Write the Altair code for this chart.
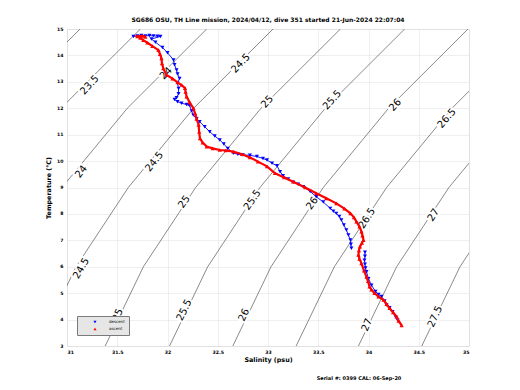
import altair as alt
import pandas as pd

# ---------------- data ----------------
title_text = "SG686 OSU, TH Line mission, 2024/04/12, dive 351 started 21-Jun-2024 22:07:04"
footer_text = "Serial #: 0399  CAL: 06-Sep-20"

sal_ticks = [31, 31.5, 32, 32.5, 33, 33.5, 34, 34.5, 35]
temp_ticks = [3, 4, 5, 6, 7, 8, 9, 10, 11, 12, 13, 14, 15]

# isopycnal contours: salinity where each sigma line crosses these temperatures
iso_T = [3, 6, 9, 12, 15]
iso_23 = [28.79, 29.17, 29.69, 30.34, 31.13]
iso_23_5 = [29.39, 29.77, 30.29, 30.94, 31.73]
iso_24 = [30.05, 30.43, 30.95, 31.60, 32.39]
iso_24_5 = [30.71, 31.09, 31.61, 32.26, 33.05]
iso_25 = [31.38, 31.76, 32.28, 32.93, 33.72]
iso_25_5 = [32.02, 32.40, 32.92, 33.57, 34.36]
iso_26 = [32.65, 33.03, 33.55, 34.20, 34.99]
iso_26_5 = [33.28, 33.66, 34.18, 34.83, 35.62]
iso_27 = [33.90, 34.28, 34.80, 35.45, 36.24]
iso_27_5 = [34.53, 34.91, 35.43, 36.08, 36.87]

# contour labels
lab_text = ["23.5", "24", "24", "24.5", "24.5", "24.5", "25", "25", "25", "25.5",
            "25.5", "25.5", "26", "26", "26", "26.5", "26.5", "27", "27", "27.5"]
lab_S = [31.225, 31.142, 31.985, 32.729, 31.869, 31.142, 32.993, 32.167, 31.506, 33.638,
         32.845, 32.167, 34.266, 33.44, 32.762, 34.779, 33.985, 34.646, 33.985, 34.663]
lab_T = [12.88, 9.60, 13.32, 13.70, 9.98, 5.94, 12.25, 8.46, 4.17, 12.31,
         8.53, 4.36, 12.12, 8.40, 4.17, 11.62, 7.83, 7.96, 3.80, 4.11]
lab_angle = [313, 307, 314, 314, 308, 300, 312, 305, 295, 312,
             305, 296, 312, 305, 295, 311, 303, 303, 293, 295]

# ascent (red)
ascent_pts = [(34.33, 3.78), (34.30, 3.95), (34.28, 4.11), (34.245, 4.27), (34.21, 4.43),
              (34.18, 4.58), (34.15, 4.74), (34.10, 4.87), (34.06, 5.00), (34.03, 5.13),
              (34.01, 5.25), (33.995, 5.45), (33.98, 5.62), (33.955, 5.85), (33.93, 6.13),
              (33.91, 6.30), (33.90, 6.45), (33.905, 6.62), (33.915, 6.76), (33.935, 6.90),
              (33.95, 7.01), (33.94, 7.18), (33.93, 7.33), (33.91, 7.52), (33.88, 7.71),
              (33.855, 7.87), (33.82, 8.02), (33.76, 8.20), (33.68, 8.40), (33.58, 8.59),
              (33.48, 8.78), (33.37, 9.00), (33.25, 9.22), (33.16, 9.38), (33.07, 9.54),
              (32.99, 9.80), (32.90, 9.98), (32.82, 10.14), (32.74, 10.26), (32.655, 10.36),
              (32.58, 10.40), (32.52, 10.42), (32.45, 10.48), (32.39, 10.55), (32.35, 10.70),
              (32.323, 10.86), (32.315, 11.10), (32.31, 11.37), (32.29, 11.60), (32.275, 11.80),
              (32.257, 12.00), (32.22, 12.22), (32.19, 12.44), (32.18, 12.62), (32.174, 12.76),
              (32.14, 12.88), (32.10, 12.98), (32.05, 13.12), (31.99, 13.26), (31.958, 13.51),
              (31.945, 13.70), (31.94, 13.89), (31.925, 14.05), (31.91, 14.20), (31.85, 14.35),
              (31.80, 14.48), (31.759, 14.58), (31.73, 14.66), (31.70, 14.72), (31.745, 14.74),
              (31.78, 14.70)]

# descent (blue), two pieces
descent_upper = [(31.66, 14.72), (31.70, 14.74), (31.74, 14.75), (31.78, 14.74), (31.82, 14.75),
                 (31.86, 14.74), (31.90, 14.73), (31.93, 14.72), (31.84, 14.62), (31.88, 14.50),
                 (31.95, 14.30), (32.00, 14.10), (32.06, 13.83), (32.07, 13.65), (32.09, 13.45),
                 (32.10, 13.30), (32.12, 13.13), (32.10, 12.95), (32.11, 12.75), (32.11, 12.55),
                 (32.09, 12.40), (32.07, 12.33), (32.10, 12.25), (32.14, 12.19), (32.19, 12.14),
                 (32.22, 12.10), (32.24, 11.90), (32.257, 11.74), (32.29, 11.60), (32.32, 11.49),
                 (32.37, 11.30), (32.42, 11.11), (32.47, 10.95), (32.52, 10.80), (32.56, 10.65),
                 (32.60, 10.48), (32.655, 10.30), (32.70, 10.26), (32.75, 10.23), (32.82, 10.22),
                 (32.89, 10.17), (32.95, 10.10), (32.99, 10.04), (33.04, 9.92), (33.09, 9.82),
                 (33.12, 9.60), (33.15, 9.45), (33.20, 9.32), (33.25, 9.20), (33.30, 9.12),
                 (33.35, 9.03), (33.42, 8.85), (33.48, 8.65), (33.55, 8.45), (33.62, 8.21),
                 (33.65, 8.10), (33.68, 8.02), (33.71, 7.90), (33.73, 7.77), (33.755, 7.58),
                 (33.78, 7.39), (33.80, 7.20), (33.82, 7.01), (33.825, 6.85), (33.83, 6.70)]
descent_lower = [(33.965, 6.55), (33.965, 6.40), (33.96, 6.25), (33.965, 6.10), (33.97, 5.95),
                 (33.98, 5.81), (34.00, 5.55), (34.03, 5.30), (34.07, 5.06), (34.10, 4.95),
                 (34.13, 4.87), (34.16, 4.70), (34.18, 4.55), (34.21, 4.45), (34.24, 4.30),
                 (34.27, 4.10), (34.29, 3.98)]

# ---------------- tables ----------------
iso_sets = [("23", iso_23), ("23.5", iso_23_5), ("24", iso_24), ("24.5", iso_24_5),
            ("25", iso_25), ("25.5", iso_25_5), ("26", iso_26), ("26.5", iso_26_5),
            ("27", iso_27), ("27.5", iso_27_5)]
iso_rows = []
for lev, svals in iso_sets:
    for i, (s, t) in enumerate(zip(svals, iso_T)):
        iso_rows.append({"lev": lev, "i": i, "S": s, "T": t})
iso_df = pd.DataFrame(iso_rows)

lab_df = pd.DataFrame({"txt": lab_text, "S": lab_S, "T": lab_T, "ang": lab_angle})

prof_rows = []
for i, (s, t) in enumerate(descent_upper):
    prof_rows.append({"dir": "descent", "seg": "d1", "i": i, "S": s, "T": t})
for i, (s, t) in enumerate(descent_lower):
    prof_rows.append({"dir": "descent", "seg": "d2", "i": i, "S": s, "T": t})
for i, (s, t) in enumerate(ascent_pts):
    prof_rows.append({"dir": "ascent", "seg": "a1", "i": i, "S": s, "T": t})
prof_df = pd.DataFrame(prof_rows)
desc_df = prof_df[prof_df["dir"] == "descent"]
asc_df = prof_df[prof_df["dir"] == "ascent"]

FONT = "DejaVu Sans"

xscale = alt.Scale(domain=[31, 35], nice=False, zero=False)
yscale = alt.Scale(domain=[3, 15], nice=False, zero=False)
xaxis = alt.Axis(values=sal_ticks, format="~g", title="Salinity (psu)", grid=True,
                 ticks=False, domain=False, labelPadding=3, titlePadding=3,
                 labelFontSize=4.6, titleFontSize=6.4, labelFont=FONT, titleFont=FONT,
                 titleFontWeight="bold", labelFontWeight="bold", labelColor="black",
                 titleColor="black", gridColor="#e4e4e4", gridWidth=0.6)
yaxis = alt.Axis(values=temp_ticks, format="~g", title="Temperature (°C)", grid=True,
                 ticks=False, domain=False, labelPadding=4, titlePadding=5,
                 labelFontSize=4.6, titleFontSize=6.4, labelFont=FONT, titleFont=FONT,
                 titleFontWeight="bold", labelFontWeight="bold", labelColor="black",
                 titleColor="black", gridColor="#e4e4e4", gridWidth=0.6)

X = alt.X("S:Q", scale=xscale, axis=xaxis)
Y = alt.Y("T:Q", scale=yscale, axis=yaxis)

contours = alt.Chart(iso_df).mark_line(clip=True, color="#3a3a3a", strokeWidth=0.6).encode(
    x=X, y=Y, detail="lev:N", order="i:Q")

halo = alt.Chart(lab_df).mark_text(font=FONT, fontSize=10, stroke="white", strokeWidth=4,
                                   fill="white", align="center", baseline="middle").encode(
    x=X, y=Y, text="txt:N", angle=alt.Angle("ang:Q", scale=None))
labels = alt.Chart(lab_df).mark_text(font=FONT, fontSize=10, color="black",
                                     align="center", baseline="middle").encode(
    x=X, y=Y, text="txt:N", angle=alt.Angle("ang:Q", scale=None))

dir_color = alt.Color("dir:N", scale=alt.Scale(domain=["descent", "ascent"], range=["#0000ff", "#ff0000"]),
                      legend=alt.Legend(title=None, orient="none", legendX=10, legendY=287,
                                        fillColor="#e6e6e6", strokeColor="#7a7a7a", padding=4,
                                        labelFontSize=4, labelFont=FONT, labelColor="black",
                                        symbolSize=10, symbolOffset=12, labelOffset=12,
                                        rowPadding=3, symbolStrokeWidth=0))
dir_shape = alt.Shape("dir:N", scale=alt.Scale(domain=["descent", "ascent"],
                                               range=["triangle-down", "triangle-up"]))

desc_line = alt.Chart(desc_df).mark_line(clip=True, color="#0000ff", strokeWidth=0.9).encode(
    x=X, y=Y, detail="seg:N", order="i:Q")
desc_pts = alt.Chart(desc_df).mark_point(clip=True, filled=True, size=16, opacity=1).encode(
    x=X, y=Y, color=dir_color, shape=dir_shape)
asc_line = alt.Chart(asc_df).mark_line(clip=True, color="#ff0000", strokeWidth=2.2).encode(
    x=X, y=Y, detail="seg:N", order="i:Q")
asc_pts = alt.Chart(asc_df).mark_point(clip=True, filled=True, size=18, opacity=1).encode(
    x=X, y=Y, color=dir_color, shape=dir_shape)

footer = alt.Chart(pd.DataFrame({"f": [footer_text]})).mark_text(
    font=FONT, fontSize=5, fontWeight="bold", color="black", align="center", baseline="middle"
).encode(text="f:N", x=alt.value(292), y=alt.value(349))

chart = alt.layer(contours, halo, labels, desc_line, desc_pts, asc_line, asc_pts, footer).properties(
    width=402, height=317,
    title=alt.TitleParams(title_text, fontSize=6, font=FONT, fontWeight="bold",
                          anchor="middle", offset=3, color="black"),
    padding={"left": 59, "top": 21, "right": 43, "bottom": 36},
    autosize=alt.AutoSizeParams(type="none"),
).configure_view(stroke="black", strokeWidth=0.7).configure(background="white")

chart.save("out.html", embed_options={"renderer": "svg", "actions": False})
